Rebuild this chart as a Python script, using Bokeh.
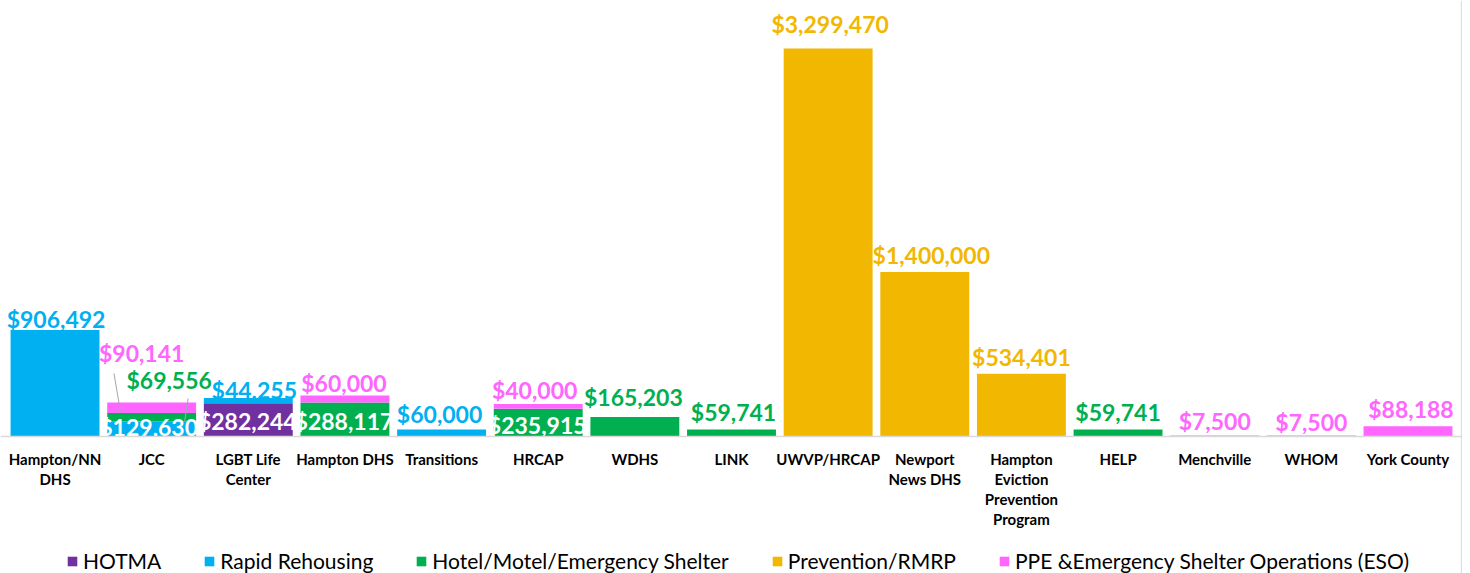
from bokeh.plotting import figure
from bokeh.models import ColumnDataSource, Legend, LegendItem, Range1d, Span
from bokeh.embed import file_html
from bokeh.resources import INLINE
from bokeh.core.properties import value

# ---------------- DATA ----------------
categories = ["Hampton/NN DHS", "JCC", "LGBT Life Center", "Hampton DHS", "Transitions",
              "HRCAP", "WDHS", "LINK", "UWVP/HRCAP", "Newport News DHS",
              "Hampton Eviction Prevention Program", "HELP", "Menchville", "WHOM", "York County"]
tick_labels = ["Hampton/NN\nDHS", "JCC", "LGBT Life\nCenter", "Hampton DHS", "Transitions",
               "HRCAP", "WDHS", "LINK", "UWVP/HRCAP", "Newport\nNews DHS",
               "Hampton\nEviction\nPrevention\nProgram", "HELP", "Menchville", "WHOM", "York County"]

series_names = ["HOTMA", "Rapid Rehousing", "Hotel/Motel/Emergency Shelter",
                "Prevention/RMRP", "PPE &Emergency Shelter Operations (ESO)"]
hotma      = [0, 0, 282244, 0, 0, 0, 0, 0, 0, 0, 0, 0, 0, 0, 0]
rapid      = [906492, 129630, 44255, 0, 60000, 0, 0, 0, 0, 0, 0, 0, 0, 0, 0]
hotel      = [0, 69556, 0, 288117, 0, 235915, 165203, 59741, 0, 0, 0, 59741, 0, 0, 0]
prevention = [0, 0, 0, 0, 0, 0, 0, 0, 3299470, 1400000, 534401, 0, 0, 0, 0]
ppe        = [0, 90141, 0, 60000, 0, 40000, 0, 0, 0, 0, 0, 0, 7500, 7500, 88188]

# ---------------- STYLE / LAYOUT ----------------
colors = ["#7030A0", "#00B0F0", "#00B050", "#F2B700", "#FF66FF"]
keys = ["hotma", "rapid", "hotel", "prevention", "ppe"]
series = [hotma, rapid, hotel, prevention, ppe]

FIG_W, FIG_H = 1462, 573
ABOVE_PX, BELOW_PX = 436, 137          # pixels above / below the zero line
VAL_PER_PX = 3640000 / 428
PAD_UNITS = 0.0642                     # side padding of the category range, in category widths

# label placement: (category index, series index, mode, dx px, dy px)
label_layout = [
    (0, 1, "top", 1, -11),
    (1, 4, "top", -10, -49.5),
    (1, 2, "top", 17.5, -33),
    (1, 1, "inside", -3, -2),
    (2, 1, "top", 6, -8.5),
    (2, 0, "inside", -1, 1),
    (3, 4, "top", -1, -12.6),
    (3, 2, "inside", -1, 1.4),
    (4, 1, "top", -2, -15.6),
    (5, 4, "top", -3.6, -13.6),
    (5, 2, "inside", -1, 2),
    (6, 2, "top", -1.5, -20),
    (7, 2, "top", 2, -17.5),
    (8, 3, "top", 2, -24.8),
    (9, 3, "top", 6.5, -16.7),
    (10, 3, "top", 0, -17),
    (11, 2, "top", 0, -17.5),
    (12, 4, "top", 0, -15),
    (13, 4, "top", 0, -13.6),
    (14, 4, "top", 3, -17.6),
]
# leader lines: (category, series, start dx, start dy (from top), end dx, end dy (from middle))
leader_layout = [
    (1, 4, -37.7, -29, -31, 5),
    (1, 2, 36.5, -14.6, 33, 4),
]
CAT_LABEL_FIRST_DY = 22
CAT_LABEL_LINE_PX = 20

data = {"cat": categories}
for k, s in zip(keys, series):
    data[k] = s
source = ColumnDataSource(data)

n = len(categories)
p = figure(x_range=categories,
           y_range=Range1d(-BELOW_PX * VAL_PER_PX, ABOVE_PX * VAL_PER_PX),
           width=FIG_W, height=FIG_H,
           output_backend="svg", toolbar_location=None,
           x_axis_location=None, y_axis_location=None,
           min_border=0)
p.outline_line_color = None
p.xgrid.visible = False
p.ygrid.visible = False
p.background_fill_color = "white"
p.border_fill_color = "white"
p.x_range.range_padding = 2 * PAD_UNITS / n

renderers = p.vbar_stack(keys, x="cat", width=0.92, color=colors, source=source, line_color=None)

# zero (category axis) line and right chart border
p.add_layout(Span(location=0, dimension="width", line_color="#D9D9D9", line_width=1.5))
p.add_layout(Span(location=n + PAD_UNITS - 0.012, dimension="height", line_color="#D9D9D9", line_width=1))

# cumulative bottoms
bottoms = []
acc = [0] * n
for s in series:
    bottoms.append(list(acc))
    acc = [a + v for a, v in zip(acc, s)]

px_per_cat = FIG_W / (n + 2 * PAD_UNITS)

lx, ly, lt, lc, ldx, ldy = [], [], [], [], [], []
for ci, si, mode, dx, dy in label_layout:
    v = series[si][ci]
    b = bottoms[si][ci]
    if mode == "top":
        ly.append(b + v)
        lc.append(colors[si])
    else:
        ly.append(b + v / 2)
        lc.append("white")
    lx.append(categories[ci])
    lt.append("${:,}".format(v))
    ldx.append(dx)
    ldy.append(dy)

x0s, y0s, x1s, y1s = [], [], [], []
for ci, si, sdx, sdy, edx, edy in leader_layout:
    v = series[si][ci]
    b = bottoms[si][ci]
    top = b + v
    mid = b + v / 2
    x0s.append(ci + 0.5 + sdx / px_per_cat)
    y0s.append(top - sdy * VAL_PER_PX)
    x1s.append(ci + 0.5 + edx / px_per_cat)
    y1s.append(mid - edy * VAL_PER_PX)
p.segment(x0=x0s, y0=y0s, x1=x1s, y1=y1s, line_color="#A6A6A6", line_width=1)

lsrc = ColumnDataSource(dict(x=lx, y=ly, text=lt, color=lc, dx=ldx, dy=ldy))
p.text(x="x", y="y", text="text", text_color="color", x_offset="dx", y_offset="dy",
       source=lsrc, text_align="center", text_baseline="middle",
       text_font=value("Lato"), text_font_size="23px", text_font_style="bold")

# category labels below the zero line (one text per line)
cx, cy, ct, cdy = [], [], [], []
for c, t in zip(categories, tick_labels):
    for li, line in enumerate(t.split("\n")):
        cx.append(c)
        cy.append(0)
        ct.append(line)
        cdy.append(CAT_LABEL_FIRST_DY + CAT_LABEL_LINE_PX * li)
csrc = ColumnDataSource(dict(x=cx, y=cy, text=ct, dy=cdy))
p.text(x="x", y="y", text="text", y_offset="dy", source=csrc,
       text_align="center", text_baseline="middle", text_color="#000000",
       text_font=value("Lato"), text_font_size="15px", text_font_style="bold")

legend = Legend(items=[LegendItem(label=nm, renderers=[r]) for nm, r in zip(series_names, renderers)],
                orientation="horizontal", location=(66, 0),
                label_text_font="Lato", label_text_font_size="21px", label_text_color="#000000",
                glyph_width=12, glyph_height=12, label_height=20, label_standoff=5,
                spacing=42, margin=0, padding=0, border_line_color=None,
                background_fill_alpha=0)
p.add_layout(legend)

open("out.html", "w").write(file_html(p, INLINE))
